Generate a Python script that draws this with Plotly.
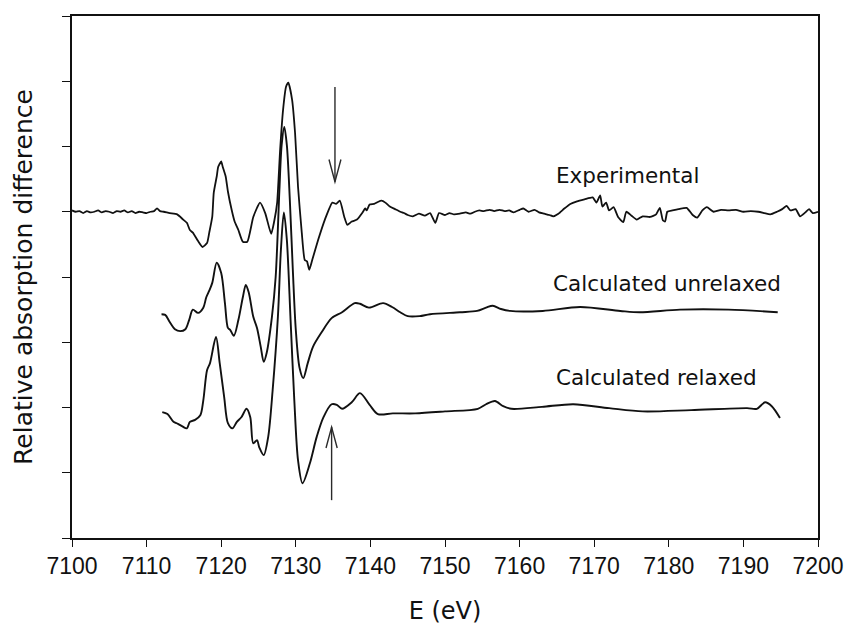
import plotly.graph_objects as go

# ---- Experimental difference spectrum (energy in eV, signal in tick units) ----
exp_energy = [
    7100.0, 7100.5, 7101.0, 7101.5, 7102.0, 7102.5, 7103.0, 7103.5, 7104.0, 7104.5,
    7105.0, 7105.5, 7106.0, 7106.5, 7107.0, 7107.5, 7108.0, 7108.5, 7109.0, 7109.5,
    7110.0, 7110.5, 7111.0, 7111.4, 7111.8, 7112.3, 7113.1, 7114.1, 7114.9, 7115.4,
    7115.8, 7116.2, 7116.9, 7117.5, 7118.1, 7118.4, 7118.8, 7119.0, 7119.4, 7119.6,
    7120.0, 7120.2, 7120.6, 7120.9, 7121.4, 7121.8, 7122.3, 7122.9, 7123.5, 7124.3,
    7125.2, 7125.9, 7126.7, 7127.1, 7127.5, 7127.9, 7128.3, 7128.7, 7129.0, 7129.5,
    7129.9, 7130.3, 7130.8, 7131.2, 7131.5, 7131.8, 7132.2, 7133.0, 7133.9,
    7134.9, 7135.4, 7135.9, 7136.5, 7136.9, 7137.5, 7138.2, 7138.9, 7139.3, 7139.5,
    7139.9, 7140.5, 7141.0, 7141.5, 7142.0, 7142.6, 7143.3, 7144.0, 7144.5, 7145.0,
    7145.7, 7146.5, 7147.3, 7148.0, 7148.7, 7149.2, 7150.0, 7150.6, 7151.2, 7152.0,
    7152.8, 7153.4, 7154.0, 7154.6, 7155.2, 7156.0, 7156.6, 7157.3, 7158.0, 7158.6,
    7159.2, 7160.0, 7160.5, 7161.2, 7162.0, 7162.6, 7163.3, 7164.0, 7164.5, 7165.2,
    7166.0, 7166.8, 7167.7, 7168.7, 7169.8, 7170.3, 7170.8, 7171.1, 7171.6, 7172.0,
    7172.6, 7173.2, 7173.9, 7174.3, 7175.0, 7175.7, 7176.5, 7177.5, 7178.3, 7178.8,
    7179.2, 7179.5, 7179.8, 7180.5, 7181.3, 7182.4, 7183.2, 7183.8, 7184.5, 7185.1,
    7186.0, 7187.0, 7188.0, 7189.0, 7190.0, 7191.0, 7192.0, 7192.8, 7193.6, 7194.5,
    7195.2, 7195.8, 7196.3, 7197.0, 7197.6, 7198.3, 7198.8, 7199.3, 7200.0,
]
exp_signal = [
    0.02, 0.00, 0.01, -0.02, 0.01, -0.01, 0.00, 0.02, -0.01, 0.01,
    0.00, -0.02, 0.01, 0.00, 0.02, -0.01, 0.01, -0.02, 0.00, -0.01,
    -0.02, 0.00, 0.01, 0.05, 0.01, 0.00, -0.02, -0.04, -0.12, -0.17,
    -0.28, -0.32, -0.45, -0.54, -0.48, -0.32, -0.08, 0.29, 0.54, 0.69,
    0.77, 0.69, 0.54, 0.31, 0.03, -0.15, -0.28, -0.46, -0.46, -0.08,
    0.14, -0.02, -0.34, -0.15, 0.14, 0.95, 1.57, 1.92, 1.98, 1.72,
    1.21, 0.38, -0.32, -0.74, -0.76, -0.89, -0.74, -0.43, -0.12,
    0.14, 0.12, 0.17, -0.08, -0.20, -0.15, -0.12, -0.02, 0.05, 0.02,
    0.11, 0.12, 0.15, 0.17, 0.14, 0.08, 0.04, 0.00, -0.02, -0.05,
    -0.07, -0.03, -0.06, -0.02, -0.17, -0.02, -0.05, -0.02, -0.04, -0.03,
    -0.01, -0.03, 0.00, 0.02, 0.01, 0.03, 0.01, 0.03, 0.01, 0.02,
    -0.01, 0.03, 0.05, 0.00, 0.03, -0.01, -0.03, -0.05, -0.07, -0.03,
    0.05, 0.12, 0.16, 0.19, 0.22, 0.14, 0.25, 0.08, 0.14, 0.02,
    0.07, -0.08, -0.16, 0.00, -0.06, -0.12, -0.07, -0.08, -0.04, 0.06,
    -0.13, -0.15, 0.00, 0.02, 0.04, 0.06, -0.05, -0.09, 0.02, 0.07,
    0.00, 0.03, 0.02, 0.03, 0.00, 0.01, 0.00, -0.02, -0.04, 0.00,
    0.04, 0.09, 0.02, 0.04, -0.07, -0.01, 0.04, -0.02, 0.00,
]

# ---- Calculated spectrum, unrelaxed geometry ----
unrel_energy = [
    7112.0, 7112.5, 7113.1, 7113.8, 7114.5, 7115.2, 7115.7, 7116.2, 7116.9, 7117.6,
    7118.0, 7118.4, 7118.8, 7119.4, 7120.0, 7120.5, 7120.9, 7121.2, 7121.7, 7122.3,
    7122.9, 7123.3, 7123.7, 7124.3, 7124.8, 7125.3, 7125.7, 7126.1, 7126.8, 7127.3,
    7127.8, 7128.1, 7128.46, 7128.8, 7129.2, 7129.6, 7130.0, 7130.5, 7131.0, 7131.6,
    7132.3, 7133.5, 7134.8, 7136.2, 7137.9, 7138.6, 7139.8, 7141.7, 7142.9, 7144.0,
    7145.0, 7146.6, 7148.0, 7152.0, 7154.3, 7155.5, 7156.4, 7157.5, 7158.7, 7163.1,
    7168.1, 7173.5, 7176.1, 7181.5, 7188.0, 7194.6,
]
unrel_signal = [
    -0.05, -0.06, -0.17, -0.28, -0.31, -0.28, -0.14, 0.02, -0.03, 0.05,
    0.21, 0.31, 0.43, 0.74, 0.58, 0.12, -0.26, -0.29, -0.38, -0.14,
    0.21, 0.40, 0.28, -0.09, -0.26, -0.55, -0.78, -0.64, -0.09, 0.52,
    1.85, 2.54, 2.82, 2.54, 1.70, 0.63, -0.29, -0.87, -1.03, -0.80,
    -0.55, -0.32, -0.11, -0.02, 0.12, 0.11, 0.05, 0.12, 0.06, -0.02,
    -0.08, -0.08, -0.05, -0.02, 0.00, 0.05, 0.08, 0.03, 0.00, 0.00,
    0.06, 0.00, -0.02, 0.02, 0.02, -0.02,
]

# ---- Calculated spectrum, relaxed geometry ----
rel_energy = [
    7112.1, 7112.8, 7113.6, 7114.2, 7114.8, 7115.4, 7115.8, 7116.5, 7117.2, 7117.6,
    7118.1, 7118.5, 7119.3, 7119.8, 7120.4, 7120.9, 7121.5, 7122.1, 7122.7, 7123.4,
    7123.9, 7124.3, 7124.8, 7125.1, 7125.7, 7126.3, 7126.9, 7127.6, 7128.0, 7128.4,
    7128.8, 7129.3, 7129.8, 7130.3, 7130.9, 7131.9, 7132.8, 7133.7, 7134.8, 7135.5,
    7136.2, 7137.5, 7138.6, 7139.9, 7141.0, 7143.0, 7146.0, 7150.0, 7154.4, 7155.5,
    7156.7, 7157.8, 7158.9, 7163.0, 7167.2, 7172.0, 7176.5, 7183.0, 7190.5, 7191.8,
    7192.9, 7193.8, 7194.9,
]
rel_signal = [
    -0.03, -0.06, -0.18, -0.21, -0.25, -0.28, -0.18, -0.15, -0.08, 0.15,
    0.61, 0.72, 1.12, 0.72, 0.20, -0.20, -0.28, -0.18, -0.11, 0.02,
    -0.11, -0.51, -0.46, -0.57, -0.69, -0.41, 0.31, 1.43, 2.45, 3.03,
    2.61, 1.38, 0.15, -0.77, -1.12, -0.81, -0.41, -0.11, 0.09, 0.08,
    0.02, 0.12, 0.26, 0.08, -0.06, -0.05, -0.05, -0.02, 0.02, 0.09,
    0.14, 0.06, 0.02, 0.05, 0.09, 0.03, -0.02, 0.00, 0.03, 0.02,
    0.12, 0.06, -0.12,
]

# vertical stacking offsets of the three spectra
offsets = {"exp": 5.0, "unrel": 3.48, "rel": 1.96}

font_family = "Liberation Sans, Arial, sans-serif"
label_family = "DejaVu Sans, sans-serif"
ink = "#111111"

fig = go.Figure()

fig.add_trace(go.Scatter(
    x=exp_energy, y=[v + offsets["exp"] for v in exp_signal],
    mode="lines", line=dict(color=ink, width=1.8, shape="spline", smoothing=0.5),
    name="Experimental",
))
fig.add_trace(go.Scatter(
    x=unrel_energy, y=[v + offsets["unrel"] for v in unrel_signal],
    mode="lines", line=dict(color=ink, width=1.9, shape="spline", smoothing=0.85),
    name="Calculated unrelaxed",
))
fig.add_trace(go.Scatter(
    x=rel_energy, y=[v + offsets["rel"] for v in rel_signal],
    mode="lines", line=dict(color=ink, width=1.9, shape="spline", smoothing=0.85),
    name="Calculated relaxed",
))

# arrows marking the feature near 7135 eV (open V heads)
arrow_style = dict(color="#2a2a2a", width=1.4)
down_x, down_top, down_tip = 7135.25, 6.91, 5.46
fig.add_shape(type="line", x0=down_x, x1=down_x, y0=down_top, y1=down_tip,
              xref="x", yref="y", line=arrow_style)
fig.add_shape(type="path", xref="x", yref="y", line=arrow_style,
              path=f"M {down_x - 0.8},{down_tip + 0.34} L {down_x},{down_tip} L {down_x + 0.8},{down_tip + 0.34}")
up_x, up_bottom, up_tip = 7134.8, 0.58, 1.70
fig.add_shape(type="line", x0=up_x, x1=up_x, y0=up_bottom, y1=up_tip,
              xref="x", yref="y", line=arrow_style)
fig.add_shape(type="path", xref="x", yref="y", line=arrow_style,
              path=f"M {up_x - 0.75},{up_tip - 0.32} L {up_x},{up_tip} L {up_x + 0.75},{up_tip - 0.32}")

# curve labels
labels = [
    ("Experimental", 7174.5, 5.56),
    ("Calculated unrelaxed", 7179.8, 3.90),
    ("Calculated relaxed", 7178.4, 2.46),
]
for text, lx, ly in labels:
    fig.add_annotation(x=lx, y=ly, xref="x", yref="y", text=text, showarrow=False,
                       font=dict(family=label_family, size=21.5, color=ink))

fig.update_layout(
    width=845, height=625,
    margin=dict(l=72, r=27, t=16, b=87),
    paper_bgcolor="white", plot_bgcolor="white",
    showlegend=False,
    font=dict(family=font_family, color=ink),
)
fig.update_xaxes(
    range=[7100, 7200], dtick=10, tick0=7100,
    showgrid=False, zeroline=False, automargin=False,
    showline=True, linecolor=ink, linewidth=1.5, mirror=True,
    ticks="outside", ticklen=7, tickwidth=1.3, tickcolor=ink,
    tickfont=dict(family=font_family, size=23, color=ink),
    title=dict(text="E (eV)", font=dict(family=label_family, size=24, color=ink), standoff=31),
)
fig.update_yaxes(
    range=[0, 8], dtick=1, tick0=0,
    showgrid=False, zeroline=False, showticklabels=False, automargin=False,
    showline=True, linecolor=ink, linewidth=1.5, mirror=True,
    ticks="outside", ticklen=8, tickwidth=1.3, tickcolor=ink,
    title=dict(text="Relative absorption difference",
               font=dict(family=label_family, size=25, color=ink), standoff=23),
)

fig.write_html("out.html")
